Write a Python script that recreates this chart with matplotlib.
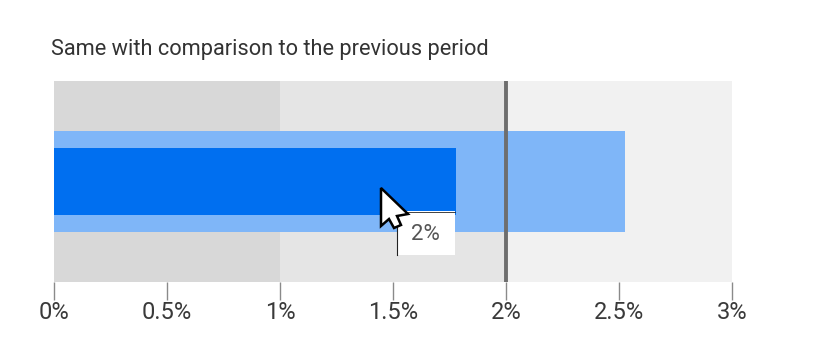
import matplotlib
matplotlib.use('Agg')
import matplotlib.pyplot as plt
from matplotlib.patches import Polygon
from matplotlib.transforms import Affine2D

plt.rcParams['font.family'] = ['Roboto', 'DejaVu Sans']

W, H = 835, 357

# bullet chart values
range_edges = [0, 1, 2, 3]
range_colors = ['#d8d8d8', '#e5e5e5', '#f1f1f1']
previous_value = 2.525
current_value = 1.78
target_value = 2
tick_values = [0, 0.5, 1, 1.5, 2, 2.5, 3]
tick_labels = ['0%', '0.5%', '1%', '1.5%', '2%', '2.5%', '3%']

fig = plt.figure(figsize=(W / 100, H / 100), dpi=100)
ax = fig.add_axes([54 / W, 1 - 282 / H, (732 - 54) / W, (282 - 81) / H])

for i in range(len(range_colors)):
    ax.barh(0.5, range_edges[i + 1] - range_edges[i], left=range_edges[i], height=1,
            color=range_colors[i], linewidth=0)
ax.barh(0.5, previous_value, height=101 / 201, color='#7fb6f8', linewidth=0)
ax.barh(0.5, current_value, height=67 / 201, color='#006ff0', linewidth=0)
ax.plot([target_value, target_value], [0, 1], color='#6e6e6e', linewidth=2.8,
        solid_capstyle='butt')

ax.set_xlim(0, 3)
ax.set_ylim(0, 1)
ax.set_yticks([])
ax.set_xticks(tick_values)
ax.set_xticklabels(tick_labels, fontsize=17, color='#3a3a3a')
ax.tick_params(axis='x', length=13, width=1, color='#8a8a8a', pad=0.5)
for s in ax.spines.values():
    s.set_visible(False)

fig.text(51 / W, 1 - 49 / H, 'Same with comparison to the previous period',
         fontsize=15.65, color='#333333', va='center', ha='left')

# tooltip and mouse cursor, placed in pixels from the top left
px = Affine2D().scale(1, -1).translate(0, H)
fig.add_artist(Polygon([(397, 211), (455, 211), (455, 255), (397, 255)], closed=True,
                       facecolor='white', edgecolor='none', transform=px, zorder=5))
fig.add_artist(plt.Line2D([397, 397], [211, 255], color='#222222', linewidth=0.8,
                          transform=px, zorder=6))
fig.add_artist(plt.Line2D([397, 455], [211.5, 211.5], color='#222222', linewidth=0.6,
                          transform=px, zorder=6))
fig.text(425.5 / W, 1 - 234 / H, '2%', fontsize=16, color='#555555',
         ha='center', va='center', zorder=7)
cursor = [(381, 188), (381, 226), (389, 219), (394, 228), (401, 225), (397, 216), (408, 214)]
fig.add_artist(Polygon(cursor, closed=True, facecolor='white', edgecolor='black',
                       linewidth=1.8, transform=px, zorder=8, joinstyle='miter'))

fig.savefig('out.png', dpi=100)
